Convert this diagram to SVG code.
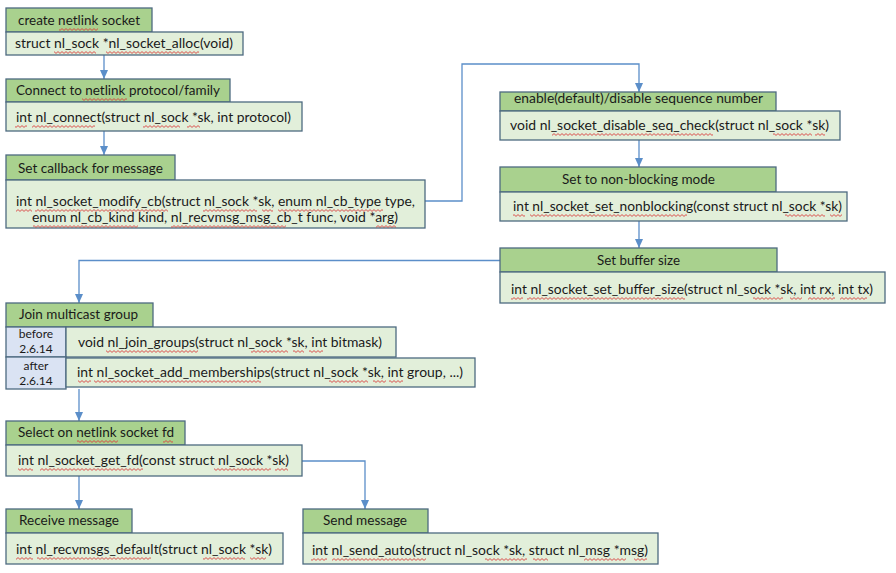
<svg xmlns="http://www.w3.org/2000/svg" width="896" height="573" viewBox="0 0 896 573">
  <defs>
    <marker id="arrow" markerUnits="userSpaceOnUse" markerWidth="10" markerHeight="10" viewBox="0 0 10 10" refX="9" refY="5" orient="auto">
      <path d="M0,1 L9,5 L0,9 Z" fill="#5b8ec9"/>
    </marker>
    <!-- thin red wavy underline used under flagged words -->
    <pattern id="wave" patternUnits="userSpaceOnUse" width="4" height="3">
      <path d="M0,2.4 L2,0.6 L4,2.4" fill="none" stroke="#d9413f" stroke-width="0.9"/>
    </pattern>
    <style>
      .hd { fill: #a9d18e; stroke: #4d6a80; stroke-width: 1.3; }
      .bd { fill: #e2efda; stroke: #4d6a80; stroke-width: 1.3; }
      .ver { fill: #dae3f3; stroke: #4d6a80; stroke-width: 1.3; }
      .t { font-family: Lato, "Liberation Sans", sans-serif; font-size: 14px; fill: #1a1a1a; }
      .s { font-family: Lato, "Liberation Sans", sans-serif; font-size: 12px; fill: #1a1a1a; }
      .sq rect { fill: url(#wave); height: 3px; }
      .cn { fill: none; stroke: #5b8ec9; stroke-width: 1.3; }
    </style>
  </defs>
  <rect width="896" height="573" fill="#ffffff"/>

  <g id="connectors">
    <path class="cn" d="M104,55 V79" marker-end="url(#arrow)"/>
    <path class="cn" d="M104,131 V155" marker-end="url(#arrow)"/>
    <path class="cn" d="M425,201 H462 V64 H639 V92" marker-end="url(#arrow)"/>
    <path class="cn" d="M639,140 V167" marker-end="url(#arrow)"/>
    <path class="cn" d="M639,221 V248" marker-end="url(#arrow)"/>
    <path class="cn" d="M500,260.5 H79 V303" marker-end="url(#arrow)"/>
    <path class="cn" d="M79,389 V421" marker-end="url(#arrow)"/>
    <path class="cn" d="M79,476 V509" marker-end="url(#arrow)"/>
    <path class="cn" d="M302,461 H365 V509" marker-end="url(#arrow)"/>
  </g>

  <g id="create-socket">
    <rect class="hd" x="6" y="8" width="146" height="24"/>
    <rect class="bd" x="6" y="32" width="237" height="23"/>
    <text class="t" x="18" y="25" textLength="122" lengthAdjust="spacingAndGlyphs">create netlink socket</text>
    <text class="t" x="15" y="48" textLength="218" lengthAdjust="spacingAndGlyphs">struct nl_sock *nl_socket_alloc(void)</text>
    <g class="sq" transform="translate(0,28)"><rect x="59" width="39"/></g>
    <g class="sq" transform="translate(0,51)"><rect x="54" width="42"/><rect x="106" width="93"/></g>
  </g>

  <g id="connect">
    <rect class="hd" x="6" y="79" width="224" height="23"/>
    <rect class="bd" x="6" y="102" width="296" height="29"/>
    <text class="t" x="16" y="95" textLength="204" lengthAdjust="spacingAndGlyphs">Connect to netlink protocol/family</text>
    <text class="t" x="16" y="122" textLength="275" lengthAdjust="spacingAndGlyphs">int nl_connect(struct nl_sock *sk, int protocol)</text>
    <g class="sq" transform="translate(0,98)"><rect x="82" width="45"/></g>
    <g class="sq" transform="translate(0,125)"><rect x="15" width="12"/><rect x="32" width="63"/><rect x="143" width="37"/><rect x="187" width="13"/></g>
  </g>

  <g id="set-callback">
    <rect class="hd" x="6" y="155" width="169" height="25"/>
    <rect class="bd" x="6" y="180" width="419" height="48"/>
    <text class="t" x="18" y="173" textLength="145" lengthAdjust="spacingAndGlyphs">Set callback for message</text>
    <text class="t" x="16" y="205.5" textLength="399" lengthAdjust="spacingAndGlyphs">int nl_socket_modify_cb(struct nl_sock *sk, enum nl_cb_type type,</text>
    <text class="t" x="32" y="222" textLength="366" lengthAdjust="spacingAndGlyphs">enum nl_cb_kind kind, nl_recvmsg_msg_cb_t func, void *arg)</text>
    <g class="sq" transform="translate(0,209)"><rect x="16" width="16"/><rect x="35" width="133"/><rect x="203" width="54"/><rect x="262" width="11"/><rect x="278" width="105"/></g>
    <g class="sq" transform="translate(0,225)"><rect x="33" width="105"/><rect x="171" width="115"/><rect x="376" width="20"/></g>
  </g>

  <g id="seq-check">
    <rect class="hd" x="500" y="92" width="276" height="19"/>
    <rect class="bd" x="500" y="111" width="340" height="29"/>
    <text class="t" x="514" y="103" textLength="249" lengthAdjust="spacingAndGlyphs">enable(default)/disable sequence number</text>
    <text class="t" x="510" y="130" textLength="319" lengthAdjust="spacingAndGlyphs">void nl_socket_disable_seq_check(struct nl_sock *sk)</text>
    <g class="sq" transform="translate(0,133)"><rect x="552" width="161"/><rect x="773" width="39"/><rect x="815" width="10"/></g>
  </g>

  <g id="nonblocking">
    <rect class="hd" x="500" y="167" width="276" height="25"/>
    <rect class="bd" x="500" y="192" width="347" height="29"/>
    <text class="t" x="562" y="184" textLength="153" lengthAdjust="spacingAndGlyphs">Set to non-blocking mode</text>
    <text class="t" x="513" y="211" textLength="329" lengthAdjust="spacingAndGlyphs">int nl_socket_set_nonblocking(const struct nl_sock *sk)</text>
    <g class="sq" transform="translate(0,214)"><rect x="513" width="12"/><rect x="530" width="157"/><rect x="785" width="40"/><rect x="830" width="12"/></g>
  </g>

  <g id="buffer-size">
    <rect class="hd" x="500" y="248" width="277" height="24"/>
    <rect class="bd" x="500" y="272" width="385" height="31"/>
    <text class="t" x="597" y="265" textLength="83" lengthAdjust="spacingAndGlyphs">Set buffer size</text>
    <text class="t" x="511" y="294" textLength="362" lengthAdjust="spacingAndGlyphs">int nl_socket_set_buffer_size(struct nl_sock *sk, int rx, int tx)</text>
    <g class="sq" transform="translate(0,297)"><rect x="511" width="12"/><rect x="527" width="158"/><rect x="753" width="30"/><rect x="790" width="12"/><rect x="808" width="27"/><rect x="840" width="27"/></g>
  </g>

  <g id="join-multicast">
    <rect class="hd" x="6" y="303" width="147" height="24"/>
    <rect class="ver" x="6" y="327" width="60" height="30"/>
    <rect class="bd" x="66" y="327" width="330" height="30"/>
    <rect class="ver" x="6" y="357" width="60" height="32"/>
    <rect class="bd" x="66" y="358" width="409" height="29"/>
    <text class="t" x="19" y="319" textLength="119" lengthAdjust="spacingAndGlyphs">Join multicast group</text>
    <text class="s" x="36" y="338" text-anchor="middle">before</text>
    <text class="s" x="36" y="353" text-anchor="middle">2.6.14</text>
    <text class="s" x="36" y="370" text-anchor="middle">after</text>
    <text class="s" x="36" y="385" text-anchor="middle">2.6.14</text>
    <text class="t" x="78" y="347" textLength="304" lengthAdjust="spacingAndGlyphs">void nl_join_groups(struct nl_sock *sk, int bitmask)</text>
    <text class="t" x="77" y="377" textLength="386" lengthAdjust="spacingAndGlyphs">int nl_socket_add_memberships(struct nl_sock *sk, int group, ...)</text>
    <g class="sq" transform="translate(0,350)"><rect x="106" width="92"/><rect x="251" width="37"/><rect x="293" width="11"/><rect x="309" width="14"/></g>
    <g class="sq" transform="translate(0,380)"><rect x="78" width="13"/><rect x="94" width="167"/><rect x="329" width="39"/><rect x="373" width="13"/><rect x="389" width="14"/></g>
  </g>

  <g id="select-fd">
    <rect class="hd" x="6" y="421" width="179" height="24"/>
    <rect class="bd" x="6" y="445" width="296" height="31"/>
    <text class="t" x="18" y="437" textLength="156" lengthAdjust="spacingAndGlyphs">Select on netlink socket fd</text>
    <text class="t" x="18" y="465" textLength="271" lengthAdjust="spacingAndGlyphs">int nl_socket_get_fd(const struct nl_sock *sk)</text>
    <g class="sq" transform="translate(0,440)"><rect x="77" width="41"/><rect x="163" width="10"/></g>
    <g class="sq" transform="translate(0,468)"><rect x="18" width="15"/><rect x="40" width="103"/><rect x="214" width="57"/><rect x="275" width="13"/></g>
  </g>

  <g id="receive">
    <rect class="hd" x="6" y="509" width="126" height="24"/>
    <rect class="bd" x="6" y="533" width="277" height="31"/>
    <text class="t" x="19" y="525" textLength="100" lengthAdjust="spacingAndGlyphs">Receive message</text>
    <text class="t" x="16" y="554" textLength="256" lengthAdjust="spacingAndGlyphs">int nl_recvmsgs_default(struct nl_sock *sk)</text>
    <g class="sq" transform="translate(0,557)"><rect x="16" width="17"/><rect x="37" width="114"/><rect x="203" width="42"/><rect x="250" width="16"/></g>
  </g>

  <g id="send">
    <rect class="hd" x="303" y="509" width="125" height="24"/>
    <rect class="bd" x="303" y="533" width="355" height="31"/>
    <text class="t" x="323" y="525" textLength="84" lengthAdjust="spacingAndGlyphs">Send message</text>
    <text class="t" x="312" y="555" textLength="336" lengthAdjust="spacingAndGlyphs">int nl_send_auto(struct nl_sock *sk, struct nl_msg *msg)</text>
    <g class="sq" transform="translate(0,558)"><rect x="311" width="16"/><rect x="332" width="94"/><rect x="485" width="42"/><rect x="533" width="15"/><rect x="584" width="42"/><rect x="634" width="13"/></g>
  </g>
</svg>
